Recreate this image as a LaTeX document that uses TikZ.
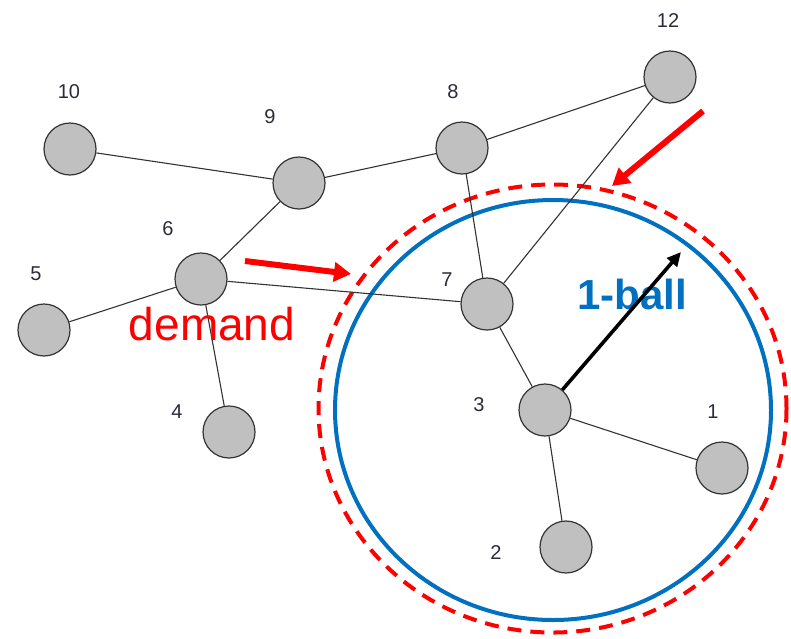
\documentclass[tikz,border=0pt]{standalone}
\usepackage{fontspec}
\setmainfont{Liberation Sans}
\usetikzlibrary{arrows.meta}
\definecolor{nodefill}{HTML}{C0C0C0}
\definecolor{nodeline}{HTML}{333333}
\definecolor{labcol}{HTML}{2B2B3A}
\definecolor{ballblue}{HTML}{0070C0}
\definecolor{dred}{HTML}{FF0000}
\tikzset{
  vtx/.style={circle, draw=nodeline, line width=1.2pt, fill=nodefill, minimum size=52pt, inner sep=0pt},
  vlab/.style={text=labcol, font=\fontsize{20}{20}\selectfont, inner sep=0pt},
  edge/.style={draw=nodeline, line width=1.1pt},
  redarrow/.style={draw=dred, line width=6pt, -{Triangle[length=17pt,width=19pt]}},
  radius arrow/.style={draw=black, line width=3.6pt, -{Triangle[length=14pt,width=13pt]}}
}
\begin{document}
\begin{tikzpicture}[x=1pt,y=-1pt]
\useasboundingbox (0,0) rectangle (791,638);
% balls
\draw[ballblue, line width=4pt] (553,410) ellipse [x radius=218, y radius=210];
\draw[dred, line width=4pt, dash pattern=on 14pt off 9pt] (552.5,408.5) ellipse [x radius=234, y radius=224];
% vertices
\node[vtx] (n10) at (70,149) {};
\node[vtx] (n9) at (299,183) {};
\node[vtx] (n8) at (462,148) {};
\node[vtx] (n12) at (670,77) {};
\node[vtx] (n6) at (201,279) {};
\node[vtx] (n5) at (44,330) {};
\node[vtx] (n7) at (487,304) {};
\node[vtx] (n4) at (229,432) {};
\node[vtx] (n3) at (545,410) {};
\node[vtx] (n1) at (722,468) {};
\node[vtx] (n2) at (566,547) {};
% labels
\node[vlab] (l10) at (69,92) {10};
\node[vlab] (l9) at (270,117) {9};
\node[vlab] (l8) at (453,92) {8};
\node[vlab] (l12) at (668,21) {12};
\node[vlab] (l6) at (168,229) {6};
\node[vlab] (l5) at (36,274) {5};
\node[vlab] (l7) at (447,280) {7};
\node[vlab] (l4) at (177,412) {4};
\node[vlab] (l3) at (479,405) {3};
\node[vlab] (l1) at (713,412) {1};
\node[vlab] (l2) at (496,553) {2};
% edges
\draw[edge] (n10) -- (n9);
\draw[edge] (n9) -- (n8);
\draw[edge] (n8) -- (n12);
\draw[edge] (n9) -- (n6);
\draw[edge] (n6) -- (n5);
\draw[edge] (n6) -- (n4);
\draw[edge] (n6) -- (n7);
\draw[edge] (n8) -- (n7);
\draw[edge] (n12) -- (n7);
\draw[edge] (n7) -- (n3);
\draw[edge] (n3) -- (n1);
\draw[edge] (n3) -- (n2);
% texts
\node[text=dred, font=\fontsize{46}{46}\selectfont, inner sep=0pt, anchor=base] (demand) at (212,340) {demand};
\node[text=ballblue, font=\bfseries\fontsize{42}{42}\selectfont, inner sep=0pt, anchor=base] (ball) at (632,309) {1-ball};
% radius arrow
\coordinate (balltip) at (681,252);
\draw[radius arrow] (n3) -- (balltip);
% red arrows
\coordinate (ra1s) at (245,261);
\coordinate (ra1e) at (351,274);
\draw[redarrow] (ra1s) -- (ra1e);
\coordinate (ra2s) at (703,111);
\coordinate (ra2e) at (612,186);
\draw[redarrow] (ra2s) -- (ra2e);
\end{tikzpicture}
\end{document}
